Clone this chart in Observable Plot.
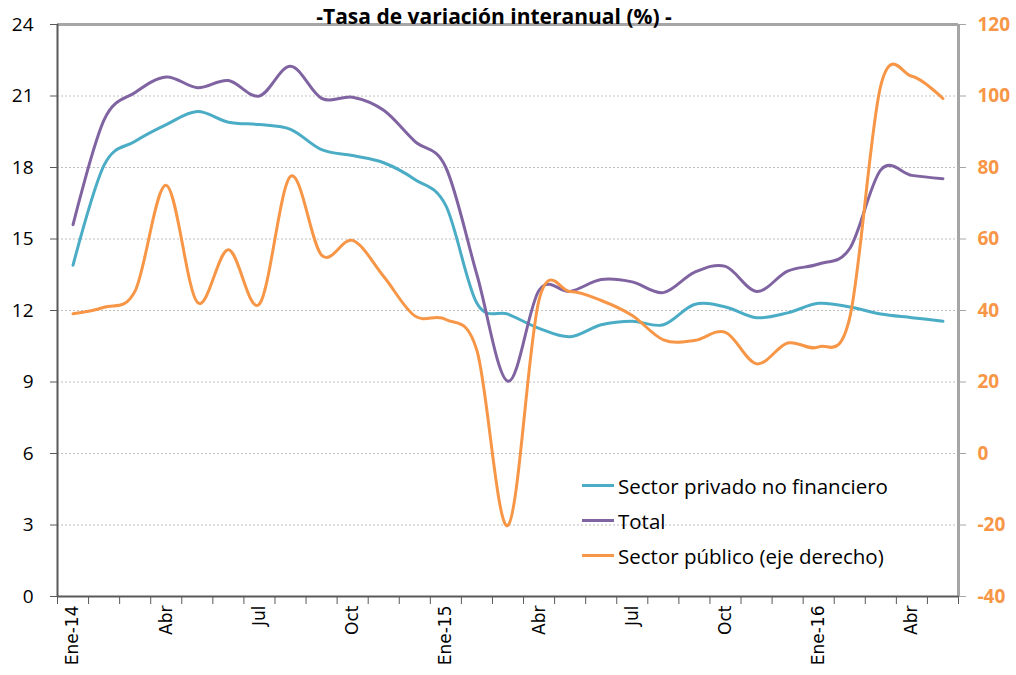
<!DOCTYPE html>
<html>
<head>
<meta charset="utf-8">
<script src="https://cdn.jsdelivr.net/npm/d3@7"></script>
<script src="https://cdn.jsdelivr.net/npm/@observablehq/plot@0.6"></script>
<style>
  body { margin: 0; background: #fff; }
  #wrap { position: relative; width: 1016px; height: 675px; overflow: hidden; }
  #legend { position: absolute; left: 582px; top: 468px; font-family: "Open Sans", sans-serif; font-size: 20.5px; color: #000; }
  .row { display: flex; align-items: center; height: 35px; white-space: nowrap; }
  .sw { width: 32px; height: 3px; margin-right: 4px; }
</style>
</head>
<body>
<div id="wrap"><div id="legend"></div></div>
<script>
// ---- data ----
const months = ["Ene-14","Feb-14","Mar-14","Abr-14","May-14","Jun-14","Jul-14","Ago-14","Sep-14","Oct-14","Nov-14","Dic-14",
                "Ene-15","Feb-15","Mar-15","Abr-15","May-15","Jun-15","Jul-15","Ago-15","Sep-15","Oct-15","Nov-15","Dic-15",
                "Ene-16","Feb-16","Mar-16","Abr-16","May-16"];
const tickLabels = ["Ene-14","Abr","Jul","Oct","Ene-15","Abr","Jul","Oct","Ene-16","Abr"];
const privado = [13.9, 18.1, 19.1, 19.8, 20.35, 19.9, 19.8, 19.6, 18.75, 18.5, 18.2, 17.5, 16.4, 12.3, 11.85, 11.25, 10.9, 11.4, 11.55, 11.4, 12.25, 12.15, 11.7, 11.9, 12.3, 12.15, 11.85, 11.7, 11.55];
const total   = [15.6, 20.0, 21.15, 21.8, 21.35, 21.65, 21.0, 22.25, 20.9, 20.95, 20.4, 19.1, 18.0, 13.5, 9.03, 12.85, 12.8, 13.3, 13.2, 12.75, 13.6, 13.85, 12.8, 13.65, 13.95, 14.6, 17.9, 17.67, 17.53];
const publico = [39.1, 40.9, 45.5, 75.0, 42.3, 57.0, 41.8, 77.5, 55.5, 59.6, 49.5, 38.5, 37.5, 28.8, -20.1, 43.0, 45.3, 42.8, 38.6, 31.8, 31.6, 33.9, 25.1, 30.9, 29.8, 38.0, 103.0, 105.5, 99.3];
const seriesNames = ["Sector privado no financiero", "Total", "Sector público (eje derecho)"];
const colors = ["#4BACC6", "#8064A2", "#F79646"];
const leftTicks = [0, 3, 6, 9, 12, 15, 18, 21, 24];
const rightTicks = [-40, -20, 0, 20, 40, 60, 80, 100, 120];
const title = "-Tasa de variación interanual (%) -";

// ---- scales ----
const leftDomain = [0, 24];
const rightDomain = [-40, 120];
const toLeft = d3.scaleLinear().domain(rightDomain).range(leftDomain);

const rows = [];
[privado, total, publico].forEach((arr, s) => {
  arr.forEach((v, i) => rows.push({ i, month: months[i], series: seriesNames[s],
    y: s === 2 ? toLeft(v) : v }));
});

const tickIdx = tickLabels.map((_, k) => k * 3);
const bandEdges = d3.range(0, months.length + 1).map(k => k - 0.5);
const grid = leftTicks.filter(t => t > leftDomain[0] && t < leftDomain[1]);

const chart = Plot.plot({
  width: 1016,
  height: 675,
  marginLeft: 57,
  marginRight: 58,
  marginTop: 24,
  marginBottom: 79,
  style: { fontFamily: "Open Sans, sans-serif", background: "#fff", overflow: "visible" },
  x: { domain: [-0.5, months.length - 0.5], axis: null },
  y: { domain: leftDomain, axis: null },
  marks: [
    Plot.ruleY(grid, { stroke: "#BFBFBF", strokeWidth: 1, strokeDasharray: "2,2" }),
    Plot.ruleY([leftDomain[1]], { stroke: "#A6A6A6", strokeWidth: 3 }),
    Plot.ruleX([months.length - 0.5], { stroke: "#A6A6A6", strokeWidth: 3 }),
    Plot.ruleX([-0.5], { stroke: "#595959", strokeWidth: 2 }),
    Plot.ruleY([leftDomain[0]], { stroke: "#595959", strokeWidth: 2 }),
    Plot.axisY({ ticks: leftTicks, tickSize: 7, tickPadding: 17, tickFormat: d => String(d),
      stroke: "#595959", fill: "#000", fontSize: 19, label: null }),
    Plot.axisY({ anchor: "right", ticks: rightTicks.map(toLeft), tickSize: 7, tickPadding: 12,
      tickFormat: d => String(Math.round(toLeft.invert(d))),
      stroke: "#A6A6A6", fill: colors[2], fontSize: 19, fontWeight: "bold", label: null }),
    Plot.axisX({ ticks: bandEdges, tickSize: 8, tickFormat: () => "", stroke: "#595959", label: null }),
    Plot.axisX({ ticks: tickIdx, tickSize: 0, tickPadding: 9, tickRotate: -90,
      tickFormat: d => tickLabels[d / 3], fontSize: 17, fontFamily: "DejaVu Sans", fill: "#000", label: null }),
    ...seriesNames.map((name, s) =>
      Plot.line(rows.filter(r => r.series === name), {
        x: "i", y: "y", stroke: colors[s], strokeWidth: 3, curve: "cardinal"
      })
    ),
    Plot.text([title], { frameAnchor: "top", dy: -15, dx: -14, fontSize: 21, fontWeight: "bold", fill: "#000" })
  ]
});
document.getElementById("wrap").prepend(chart);

const legend = document.getElementById("legend");
seriesNames.forEach((name, s) => {
  const row = document.createElement("div");
  row.className = "row";
  const sw = document.createElement("div");
  sw.className = "sw";
  sw.style.background = colors[s];
  const t = document.createElement("span");
  t.textContent = name;
  row.append(sw, t);
  legend.append(row);
});
</script>
</body>
</html>
